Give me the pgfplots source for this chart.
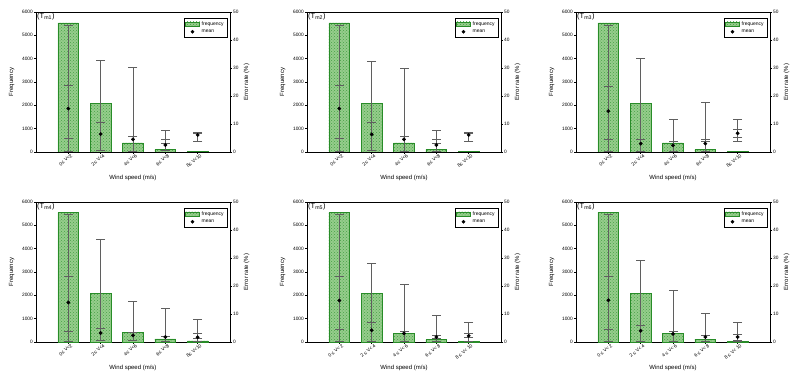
\documentclass[border=0pt]{standalone}
\usepackage{pgfplots}
\pgfplotsset{compat=1.18}
\usepackage{pgfplotstable}
\usepackage{fontspec}
\setmainfont{Liberation Sans}
\usetikzlibrary{patterns}

\definecolor{barfill}{RGB}{150,205,140}
\definecolor{barline}{RGB}{40,140,40}
\definecolor{barpat}{RGB}{70,160,70}
\definecolor{whisk}{RGB}{95,95,95}

\pgfplotstableread{
x freq min q1 mean q3 max
0 5530 0.3 4.9 15.5 23.9 45.3
1 2070 0.5 0.5 6.4 10.6 32.8
2 390 0.4 0.4 4.5 5.5 30.3
3 110 0.5 3.0 2.5 4.7 7.9
4 20 3.8 3.8 6.1 6.7 7.0
}\tabA
\pgfplotstableread{
x freq min q1 mean q3 max
0 5530 0.3 4.9 15.5 23.9 45.3
1 2070 0.5 0.5 6.3 10.6 32.3
2 390 0.4 0.4 4.5 5.5 30.0
3 110 0.4 3.0 2.5 4.5 7.8
4 20 3.8 3.8 6.1 6.7 7.0
}\tabB
\pgfplotstableread{
x freq min q1 mean q3 max
0 5530 0.3 4.4 14.6 23.5 45.3
1 2070 0.4 0.4 3.0 4.5 33.5
2 390 0.3 0.3 2.4 3.7 11.7
3 110 0.3 3.7 3.0 4.4 17.7
4 20 3.8 5.3 6.7 8.1 11.8
}\tabC
\pgfplotstableread{
x freq min q1 mean q3 max
0 5550 0.3 3.8 14.1 23.5 45.7
1 2070 0.6 0.6 3.2 4.8 36.8
2 400 0.6 0.6 2.4 3.5 14.4
3 130 0.3 0.3 1.8 2.0 12.2
4 50 0.2 1.3 1.7 3.1 8.1
}\tabD
\pgfplotstableread{
x freq min q1 mean q3 max
0 5560 0.3 4.7 14.8 23.6 45.7
1 2070 0.3 0.3 4.2 6.9 28.2
2 360 0.3 0.3 3.1 3.7 20.6
3 100 0.3 1.4 1.8 2.3 9.7
4 20 0.3 1.8 2.2 3.1 6.9
}\tabE
\pgfplotstableread{
x freq min q1 mean q3 max
0 5560 0.3 4.6 14.9 23.4 45.7
1 2070 0.3 0.3 4.0 6.1 29.1
2 370 0.3 0.3 2.9 3.7 18.6
3 110 0.3 0.3 1.8 2.3 10.3
4 20 0.3 0.7 1.8 2.8 7.0
}\tabF

\pgfplotsset{
  common/.style={
    scale only axis, width=194pt, height=140pt, anchor=south west,
    xmin=-1, xmax=5,
    tick align=outside, major tick length=2pt,
    tick style={black, line width=0.4pt},
    axis line style={line width=0.5pt},
    tick label style={font=\fontsize{4.8}{5.5}\selectfont},
    label style={font=\fontsize{6}{7}\selectfont},
    /pgf/number format/assume math mode=true,
    /pgf/number format/1000 sep={},
  },
}

\newcommand{\panel}[5]{%
\begin{axis}[common, at={(#1pt,#2pt)},
  ymin=0, ymax=6000, ytick={0,1000,...,6000},
  xtick={0,1,2,3,4}, xticklabels={#5},
  xtick pos=bottom, ytick pos=left,
  xticklabel style={rotate=40, anchor=north east, inner sep=0pt, xshift=2pt, yshift=-1pt},
  ylabel={Frequency},
  xlabel={Wind speed (m/s)},
  xlabel style={at={(axis description cs:0.5,-0.185)}, anchor=center},
  ylabel style={at={(axis description cs:-0.125,0.5)}, anchor=center},
  yticklabel style={inner sep=1pt},
]
\addplot[ybar, bar width=0.64, fill=barfill, draw=barline, line width=0.5pt,
  postaction={pattern=crosshatch dots, pattern color=barpat}] table[x=x,y=freq]{#3};
\end{axis}
\begin{axis}[common, at={(#1pt,#2pt)},
  ymin=0, ymax=50, ytick={0,10,...,50},
  axis y line*=right, axis x line=none,
  ylabel={Error rate (\%)},
  ylabel style={at={(axis description cs:1.085,0.5)}, anchor=center},
  yticklabel style={inner sep=1pt},
  legend style={at={(0.985,0.955)}, anchor=north east,
    font=\fontsize{5}{5.5}\selectfont, draw=black, line width=0.4pt,
    inner sep=1.2pt, row sep=-1.2pt, legend cell align=left},
]
\addlegendimage{legend image code/.code={\draw[fill=barfill,draw=barline,postaction={pattern=crosshatch dots, pattern color=barpat}] (0pt,-2.4pt) rectangle (14pt,2.4pt);}}
\addlegendentry{frequency}
\addlegendimage{legend image code/.code={\fill[black] (7pt,0pt) circle (1.6pt);}}
\addlegendentry{mean}
\addplot[forget plot, draw=none, mark=none,
  error bars/.cd, y dir=plus, y explicit, error mark=none,
  error bar style={whisk, line width=0.5pt}]
  table[x=x, y=min, y error expr=\thisrow{max}-\thisrow{min}]{#3};
\addplot[forget plot, only marks, mark=-, mark size=4.5pt, mark options={whisk, line width=0.5pt}] table[x=x,y=max]{#3};
\addplot[forget plot, only marks, mark=-, mark size=4.5pt, mark options={whisk, line width=0.5pt}] table[x=x,y=q3]{#3};
\addplot[forget plot, only marks, mark=-, mark size=4.5pt, mark options={whisk, line width=0.5pt}] table[x=x,y=q1]{#3};
\addplot[forget plot, only marks, mark=-, mark size=4.5pt, mark options={whisk, line width=0.5pt}] table[x=x,y=min]{#3};
\addplot[forget plot, only marks, mark=*, mark size=1.7pt, mark options={black, fill=black}] table[x=x,y=mean]{#3};
\node[anchor=north west, font=\fontsize{7.5}{8.5}\selectfont, inner sep=1pt] at (rel axis cs:0,1) {(T\textsubscript{#4})};
\end{axis}
}

\begin{document}
\begin{tikzpicture}
\useasboundingbox (0,0) rectangle (800pt,380pt);
\panel{36}{228}{\tabA}{m1}{0≤ V<2, 2≤ V<4, 4≤ V<6, 6≤ V<8, 8≤ V<10}
\panel{307}{228}{\tabB}{m2}{0≤ V<2, 2≤ V<4, 4≤ V<6, 6≤ V<8, 8≤ V<10}
\panel{576}{228}{\tabC}{m3}{0≤ V<2, 2≤ V<4, 4≤ V<6, 6≤ V<8, 8≤ V<10}
\panel{36}{38}{\tabD}{m4}{0≤ V<2, 2≤ V<4, 4≤ V<6, 6≤ V<8, 8≤ V<10}
\panel{307}{38}{\tabE}{m5}{0 ≤ V< 2, 2 ≤ V< 4, 4 ≤ V< 6, 6 ≤ V< 8, 8 ≤ V< 10}
\panel{576}{38}{\tabF}{m6}{0 ≤ V< 2, 2 ≤ V< 4, 4 ≤ V< 6, 6 ≤ V< 8, 8 ≤ V< 10}
\end{tikzpicture}
\end{document}
